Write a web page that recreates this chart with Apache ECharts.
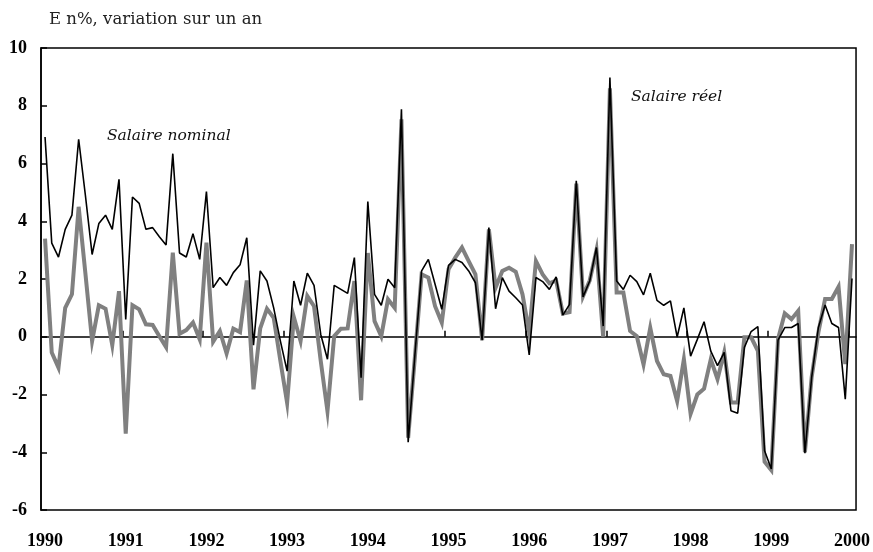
<!DOCTYPE html>
<html>
<head>
<meta charset="utf-8">
<script src="https://cdn.jsdelivr.net/npm/echarts@6/dist/echarts.min.js"></script>
<style>
  html, body { margin: 0; padding: 0; background: #fff; }
  #grafico { width: 873px; height: 552px; }
</style>
</head>
<body>
<div id="grafico"></div>
<script>
// Années affichées sous l'axe (une étiquette tous les 12 mois)
const annees = ['1990', '1991', '1992', '1993', '1994', '1995', '1996', '1997', '1998', '1999', '2000'];

// Salaire nominal, variation sur un an en % (mensuel, janv. 1990 - janv. 2000)
const salaireNominal = [
  6.92, 3.24, 2.76, 3.72, 4.21, 6.84, 4.9, 2.85, 3.92, 4.21, 3.72, 5.45,
  0.6, 4.84, 4.62, 3.72, 3.78, 3.46, 3.18, 6.34, 2.9, 2.76, 3.57, 2.68,
  5.03, 1.7, 2.05, 1.78, 2.22, 2.49, 3.43, -0.29, 2.28, 1.93, 1.0, -0.15,
  -1.19, 1.93, 1.09, 2.2, 1.78, 0.08, -0.78, 1.78, 1.64, 1.5, 2.74, -1.42,
  4.68, 1.47, 1.09, 1.99, 1.7, 7.88, -3.65, -0.63, 2.28, 2.68, 1.82, 0.95,
  2.47, 2.68, 2.57, 2.28, 1.87, -0.12, 3.78, 0.97, 2.05, 1.58, 1.35, 1.1,
  -0.63, 2.05, 1.91, 1.64, 2.07, 0.75, 1.12, 5.4, 1.38, 1.93, 3.09, 0.37,
  8.98, 1.93, 1.64, 2.13, 1.91, 1.45, 2.2, 1.26, 1.09, 1.24, -0.01, 1.0,
  -0.67, -0.09, 0.52, -0.5, -1.0, -0.54, -2.56, -2.65, -0.37, 0.18, 0.35, -3.95,
  -4.58, -0.12, 0.32, 0.32, 0.46, -4.03, -1.41, 0.32, 1.1, 0.46, 0.32, -2.16,
  2.02
];

// Salaire réel, variation sur un an en %
const salaireReel = [
  3.4, -0.55, -1.07, 1.0, 1.47, 4.5, 2.2, -0.15, 1.09, 0.97, -0.29, 1.58,
  -3.36, 1.09, 0.95, 0.43, 0.41, 0.02, -0.36, 2.91, 0.1, 0.23, 0.49, -0.09,
  3.26, -0.17, 0.2, -0.58, 0.28, 0.16, 1.95, -1.82, 0.29, 0.97, 0.66, -0.84,
  -2.29, 0.68, -0.15, 1.41, 1.06, -0.84, -2.58, 0.02, 0.28, 0.29, 1.93, -2.2,
  2.9, 0.54, 0.02, 1.3, 1.0, 7.53, -3.5, -0.7, 2.16, 2.05, 1.06, 0.49,
  2.34, 2.74, 3.09, 2.62, 2.16, -0.12, 3.72, 1.7, 2.28, 2.39, 2.25, 1.47,
  0.14, 2.62, 2.16, 1.85, 1.95, 0.8, 0.85, 5.3, 1.4, 1.95, 3.0, 0.0,
  8.6, 1.53, 1.53, 0.2, 0.02, -0.96, 0.31, -0.84, -1.3, -1.36, -2.23, -0.78,
  -2.67, -2.0, -1.8, -0.78, -1.47, -0.54, -2.28, -2.28, -0.02, -0.02, -0.49, -4.33,
  -4.62, -0.08, 0.81, 0.61, 0.9, -4.0, -1.4, 0.15, 1.31, 1.31, 1.73, -0.95,
  3.21
];

// Graduations de l'axe vertical
const yMin = -6, yMax = 10, yPas = 2;

document.addEventListener('DOMContentLoaded', function () {
  const chart = echarts.init(document.getElementById('grafico'));

  const positionsAnnees = annees.map((a, k) => k * 12);
  const separationsAnnees = annees.map((a, k) => k * 12 - 0.5).filter(v => v > 0);

  const police = 'Liberation Serif';

  chart.setOption({
    animation: false,
    backgroundColor: '#fff',
    grid: {
      left: 41, right: 16, top: 48, bottom: 42,
      show: true,
      borderColor: '#000',
      borderWidth: 1.5
    },
    graphic: [
      {
        type: 'text', left: 49, top: 11,
        style: { text: 'E n%, variation sur un an', font: '16.5px "DejaVu Serif"', fill: '#222' }
      },
      {
        type: 'text', left: 107, top: 128,
        style: { text: 'Salaire nominal', font: 'italic 15.5px "DejaVu Serif"', fill: '#111' }
      },
      {
        type: 'text', left: 631, top: 89,
        style: { text: 'Salaire réel', font: 'italic 15.5px "DejaVu Serif"', fill: '#111' }
      }
    ],
    xAxis: [
      {
        type: 'value',
        min: -0.6,
        max: 120.6,
        splitLine: { show: false },
        axisLine: { show: false, onZero: false },
        axisTick: { show: false },
        axisLabel: {
          customValues: positionsAnnees,
          formatter: v => annees[Math.round(v / 12)],
          margin: 22,
          color: '#000',
          fontFamily: police,
          fontWeight: 'bold',
          fontSize: 18
        }
      },
      {
        // ligne du zéro avec les séparations d'années
        type: 'value',
        position: 'top',
        min: -0.6,
        max: 120.6,
        splitLine: { show: false },
        axisLine: { show: true, onZero: true, lineStyle: { color: '#000', width: 1.5 } },
        axisTick: {
          show: true,
          customValues: separationsAnnees,
          length: 6,
          lineStyle: { color: '#000', width: 1.5 }
        },
        axisLabel: { show: false }
      }
    ],
    yAxis: {
      type: 'value',
      min: yMin,
      max: yMax,
      interval: yPas,
      splitLine: { show: false },
      axisLine: { show: true, onZero: false, lineStyle: { color: '#000', width: 1.5 } },
      axisTick: { show: true, inside: true, length: 6, lineStyle: { color: '#000', width: 1.5 } },
      axisLabel: {
        margin: 14,
        color: '#000',
        fontFamily: police,
        fontWeight: 'bold',
        fontSize: 18
      }
    },
    series: [
      {
        name: 'Salaire réel',
        type: 'line',
        xAxisIndex: 0,
        data: salaireReel.map((v, i) => [i, v]),
        showSymbol: false,
        lineStyle: { color: '#808080', width: 4, join: 'miter' },
        z: 2
      },
      {
        name: 'Salaire nominal',
        type: 'line',
        xAxisIndex: 0,
        data: salaireNominal.map((v, i) => [i, v]),
        showSymbol: false,
        lineStyle: { color: '#000', width: 1.6 },
        z: 3
      }
    ]
  });
});
</script>
</body>
</html>
